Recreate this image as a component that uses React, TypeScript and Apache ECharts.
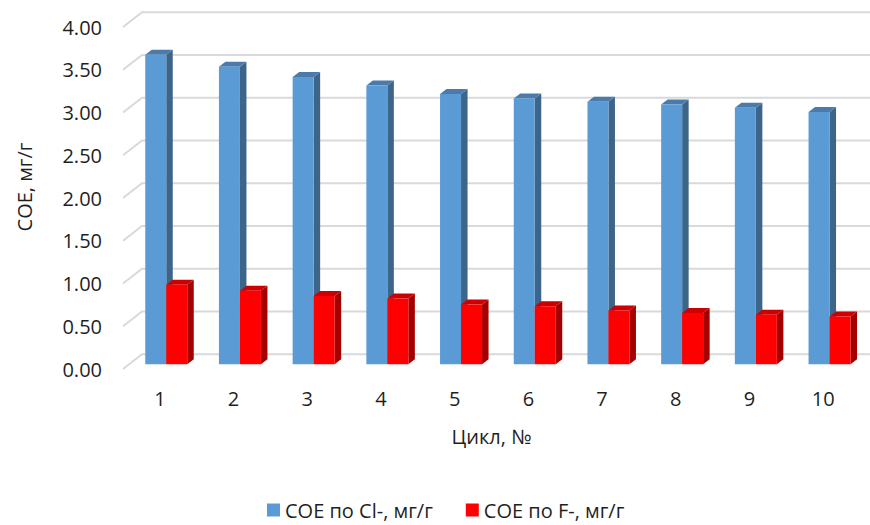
import React, { useEffect, useRef } from "react";
import * as echarts from "echarts";

const categories = ["1", "2", "3", "4", "5", "6", "7", "8", "9", "10"];
const clValues = [3.62, 3.48, 3.36, 3.26, 3.16, 3.11, 3.07, 3.04, 3.0, 2.95];
const fValues = [0.93, 0.86, 0.8, 0.77, 0.7, 0.68, 0.63, 0.6, 0.58, 0.56];
const yTicks = [0, 0.5, 1, 1.5, 2, 2.5, 3, 3.5, 4];
const seriesNames = ["СОЕ по Cl-, мг/г", "СОЕ по F-, мг/г"];
const yName = "СОЕ, мг/г";
const xName = "Цикл, №";

const FONT = "'Open Sans', 'Noto Sans', sans-serif";
const TXT = "#1f1f1f";

// depth geometry (pseudo 3D)
const WALL_DX = 19;
const WALL_DY = -14.7;
const BAR_DX = 6.4; // bar plane offset from front plane
const BAR_DY = -4.7;
const BAR_W = 21;
const DEPTH_DX = 6.5;
const DEPTH_DY = -5;

const blue = { front: "#5b9bd5", side: "#3d6489", top: "#4a7bab" };
const red = { front: "#ff0000", side: "#a50000", top: "#cc0000" };

function barRenderer(side: number, c: { front: string; side: string; top: string }) {
  return (params: any, api: any) => {
    const idx = api.value(0);
    const base = api.coord([idx, 0]);
    const topP = api.coord([idx, api.value(1)]);
    const cx = base[0] + BAR_DX;
    const y0 = base[1] + BAR_DY;
    const y1 = topP[1] + BAR_DY;
    const x0 = side < 0 ? cx - BAR_W : cx;
    const x1 = x0 + BAR_W;
    return {
      type: "group",
      children: [
        {
          type: "polygon",
          shape: {
            points: [
              [x1, y1],
              [x1 + DEPTH_DX, y1 + DEPTH_DY],
              [x1 + DEPTH_DX, y0 + DEPTH_DY],
              [x1, y0],
            ],
          },
          style: { fill: c.side },
        },
        {
          type: "polygon",
          shape: {
            points: [
              [x0, y1],
              [x0 + DEPTH_DX, y1 + DEPTH_DY],
              [x1 + DEPTH_DX, y1 + DEPTH_DY],
              [x1, y1],
            ],
          },
          style: { fill: c.top },
        },
        {
          type: "rect",
          shape: { x: x0, y: y1, width: BAR_W, height: y0 - y1 },
          style: { fill: c.front },
        },
      ],
    };
  };
}

export default function App() {
  const ref = useRef<HTMLDivElement>(null);
  useEffect(() => {
    document.body.style.margin = "0";
    if (!ref.current) return;
    const chart = echarts.init(ref.current, null, { renderer: "svg" });
    chart.setOption({
      animation: false,
      backgroundColor: "#ffffff",
      grid: { left: 123, right: 10, top: 27, bottom: 156, containLabel: false },
      legend: {
        top: 500,
        left: 267,
        padding: 0,
        icon: "rect",
        itemWidth: 13,
        itemHeight: 13,
        itemGap: 33,
        data: [
          { name: seriesNames[0], itemStyle: { color: blue.front } },
          { name: seriesNames[1], itemStyle: { color: red.front } },
        ],
        textStyle: { fontFamily: FONT, fontSize: 20, lineHeight: 20, color: TXT },
      },
      xAxis: {
        type: "category",
        data: categories,
        axisLine: { show: false },
        axisTick: { show: false },
        axisLabel: { fontFamily: FONT, fontSize: 20, color: TXT, margin: 19 },
        name: xName,
        nameLocation: "middle",
        nameGap: 57,
        nameTextStyle: { fontFamily: FONT, fontSize: 20, color: TXT },
      },
      yAxis: {
        type: "value",
        min: 0,
        max: 4,
        interval: 0.5,
        splitLine: { show: false },
        axisLine: { show: false },
        axisTick: { show: false },
        axisLabel: {
          fontFamily: FONT,
          fontSize: 20,
          color: TXT,
          margin: 21,
          formatter: (v: number) => v.toFixed(2),
        },
        name: yName,
        nameLocation: "middle",
        nameGap: 89,
        nameTextStyle: { fontFamily: FONT, fontSize: 20, color: TXT, padding: [0, 0, 0, 22] },
      },
      series: [
        {
          type: "custom",
          name: "grid",
          silent: true,
          data: yTicks.map((v) => [0, v]),
          encode: { x: 0, y: 1 },
          renderItem: (params: any, api: any) => {
            const y = api.coord([0, api.value(1)])[1];
            const cs = params.coordSys;
            return {
              type: "polyline",
              shape: {
                points: [
                  [cs.x, y],
                  [cs.x + WALL_DX, y + WALL_DY],
                  [cs.x + cs.width + WALL_DX + 20, y + WALL_DY],
                ],
              },
              style: { stroke: "#d9d9d9", lineWidth: 2, fill: "none" },
            };
          },
        },
        {
          type: "custom",
          name: seriesNames[0],
          itemStyle: { color: blue.front },
          data: clValues.map((v, i) => [i, v]),
          encode: { x: 0, y: 1 },
          renderItem: barRenderer(-1, blue),
        },
        {
          type: "custom",
          name: seriesNames[1],
          itemStyle: { color: red.front },
          data: fValues.map((v, i) => [i, v]),
          encode: { x: 0, y: 1 },
          renderItem: barRenderer(1, red),
        },
      ],
    });
    return () => chart.dispose();
  }, []);
  return <div ref={ref} style={{ width: 870, height: 525 }} />;
}
